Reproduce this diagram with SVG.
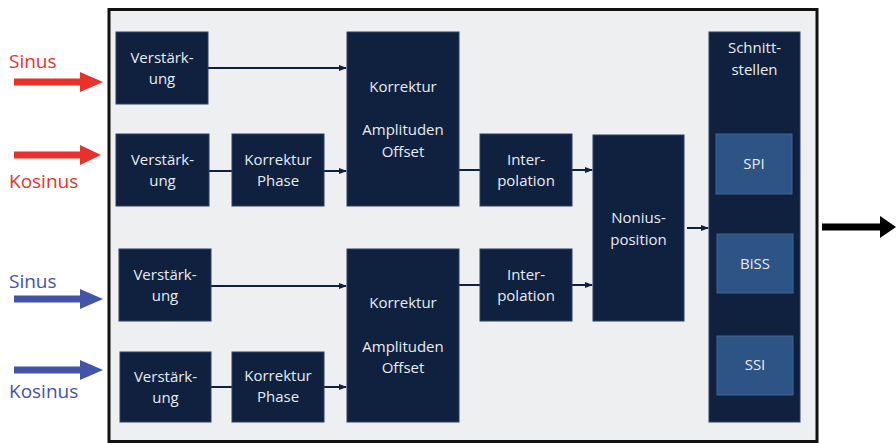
<svg xmlns="http://www.w3.org/2000/svg" width="896" height="443" viewBox="0 0 896 443">
<style>
.box{fill:#10213f;stroke:#2a3f66;stroke-width:1}
.sub{fill:#2e5485;stroke:#3d6596;stroke-width:1}
.t{font-family:"Open Sans","Liberation Sans",sans-serif;font-size:15px;fill:#e8ebf0;text-anchor:middle}
.con{stroke:#10213f;stroke-width:2;fill:none}
.lbl{font-family:"Open Sans","Liberation Sans",sans-serif;font-size:19px}
</style>
<defs>
<marker id="ah" markerWidth="8" markerHeight="8" refX="7" refY="4" orient="auto" markerUnits="userSpaceOnUse">
<path d="M0,1 L8,4 L0,7 Z" fill="#10213f"/>
</marker>
</defs>
<rect x="0" y="0" width="896" height="443" fill="#ffffff"/>
<rect id="frame" x="109" y="9.5" width="708" height="432" fill="#eeeff0" stroke="#111111" stroke-width="3"/>

<g id="inputs">
<text class="lbl" x="9" y="68" fill="#e8312a">Sinus</text>
<path d="M14,78.5 H80 V72 L103,82 L80,92 V85.5 H14 Z" fill="#e8312a"/>
<path d="M14,151.5 H80 V145 L101,155 L80,165 V158.5 H14 Z" fill="#e8312a"/>
<text class="lbl" x="9" y="188" fill="#e8312a">Kosinus</text>
<text class="lbl" x="9" y="288" fill="#4353a8">Sinus</text>
<path d="M14,295.5 H80 V289 L103,299 L80,309 V302.5 H14 Z" fill="#4353a8"/>
<path d="M14,366.5 H80 V360 L103,370 L80,380 V373.5 H14 Z" fill="#4353a8"/>
<text class="lbl" x="9" y="398" fill="#4353a8">Kosinus</text>
</g>

<g id="connectors">
<line class="con" x1="208" y1="68" x2="346" y2="68" marker-end="url(#ah)"/>
<line class="con" x1="209" y1="171" x2="232" y2="171"/>
<line class="con" x1="324" y1="171" x2="346" y2="171" marker-end="url(#ah)"/>
<line class="con" x1="459" y1="170" x2="480" y2="170"/>
<line class="con" x1="572" y1="170" x2="592" y2="170" marker-end="url(#ah)"/>
<line class="con" x1="211" y1="286" x2="346" y2="286" marker-end="url(#ah)"/>
<line class="con" x1="459" y1="285" x2="480" y2="285"/>
<line class="con" x1="572" y1="285" x2="592" y2="285" marker-end="url(#ah)"/>
<line class="con" x1="211" y1="387" x2="232" y2="387"/>
<line class="con" x1="324" y1="387" x2="346" y2="387" marker-end="url(#ah)"/>
<line class="con" x1="687" y1="228" x2="708" y2="228" marker-end="url(#ah)"/>
</g>

<g id="output">
<path d="M822,223.5 H880 V216 L896,227 L880,238 V230.5 H822 Z" fill="#000000"/>
</g>

<g id="v1"><rect class="box" x="116" y="32" width="92" height="72"/>
<text class="t" x="162" y="63">Verstärk-</text><text class="t" x="162" y="84">ung</text></g>
<g id="v2"><rect class="box" x="116" y="134" width="93" height="72"/>
<text class="t" x="162.5" y="165">Verstärk-</text><text class="t" x="162.5" y="186">ung</text></g>
<g id="kp1"><rect class="box" x="232" y="134" width="92" height="72"/>
<text class="t" x="278" y="165">Korrektur</text><text class="t" x="278" y="186">Phase</text></g>
<g id="ka1"><rect class="box" x="347" y="32" width="112" height="174"/>
<text class="t" x="403" y="92">Korrektur</text><text class="t" x="403" y="135">Amplituden</text><text class="t" x="403" y="157">Offset</text></g>
<g id="ip1"><rect class="box" x="480" y="134" width="92" height="72"/>
<text class="t" x="526" y="165">Inter-</text><text class="t" x="526" y="186">polation</text></g>

<g id="v3"><rect class="box" x="119" y="249" width="92" height="72"/>
<text class="t" x="165" y="280">Verstärk-</text><text class="t" x="165" y="301">ung</text></g>
<g id="v4"><rect class="box" x="120" y="352" width="91" height="70"/>
<text class="t" x="165.5" y="382">Verstärk-</text><text class="t" x="165.5" y="403">ung</text></g>
<g id="kp2"><rect class="box" x="232" y="352" width="92" height="70"/>
<text class="t" x="278" y="381">Korrektur</text><text class="t" x="278" y="402">Phase</text></g>
<g id="ka2"><rect class="box" x="347" y="249" width="112" height="173"/>
<text class="t" x="403" y="308">Korrektur</text><text class="t" x="403" y="352">Amplituden</text><text class="t" x="403" y="373">Offset</text></g>
<g id="ip2"><rect class="box" x="480" y="249" width="92" height="72"/>
<text class="t" x="526" y="280">Inter-</text><text class="t" x="526" y="301">polation</text></g>

<g id="nonius"><rect class="box" x="593" y="135" width="91" height="186"/>
<text class="t" x="638.5" y="223">Nonius-</text><text class="t" x="638.5" y="245">position</text></g>

<g id="schnittstellen"><rect class="box" x="709" y="32" width="91" height="390"/>
<text class="t" x="754.5" y="53">Schnitt-</text><text class="t" x="754.5" y="75">stellen</text></g>
<g id="spi"><rect class="sub" x="716" y="134" width="76" height="60"/>
<text class="t" x="754" y="169">SPI</text></g>
<g id="biss"><rect class="sub" x="717" y="234" width="76" height="59"/>
<text class="t" x="755" y="269">BiSS</text></g>
<g id="ssi"><rect class="sub" x="717" y="336" width="76" height="59"/>
<text class="t" x="755" y="370">SSI</text></g>
</svg>
